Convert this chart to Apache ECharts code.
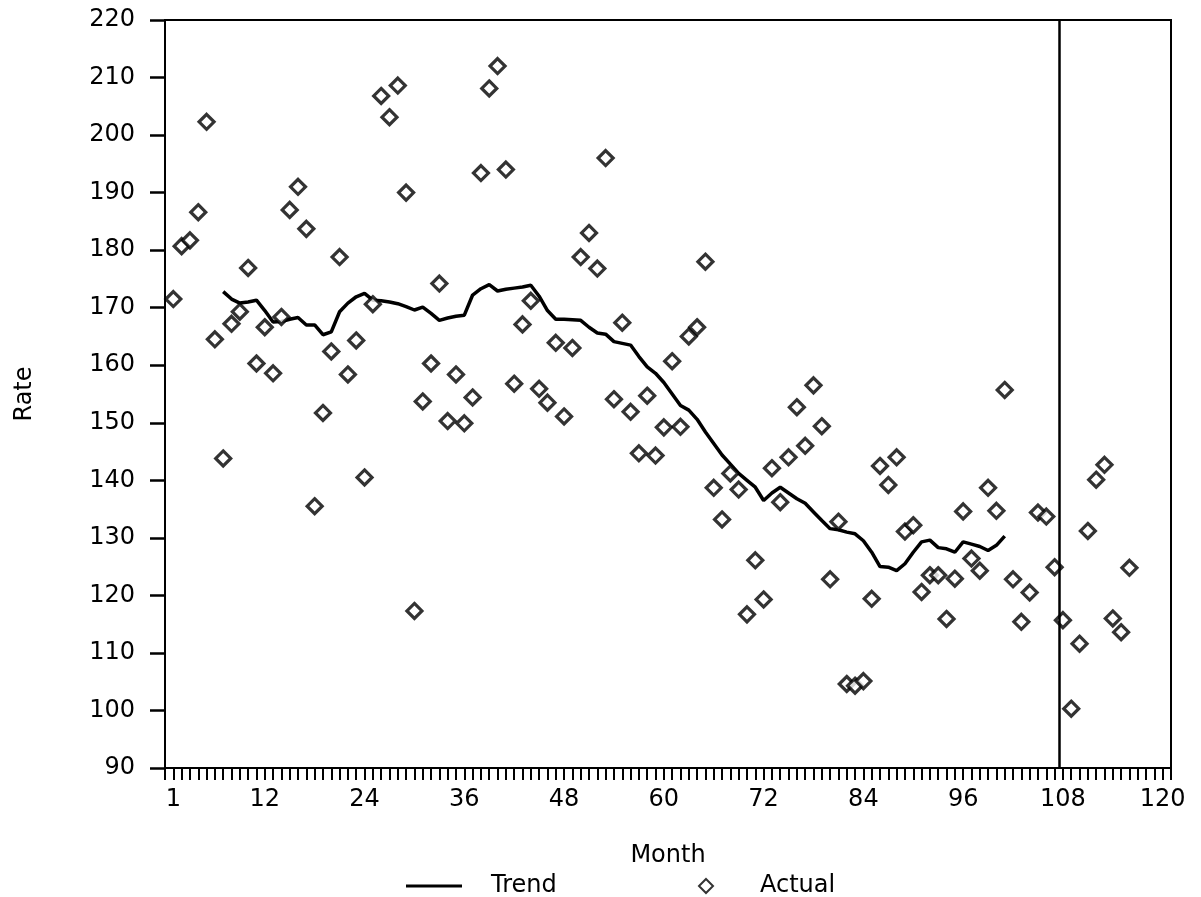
<!DOCTYPE html>
<html>
<head>
<meta charset="utf-8">
<title>Rate by Month</title>
<script src="https://cdn.jsdelivr.net/npm/echarts@6/dist/echarts.min.js"></script>
<style>
  html, body { margin: 0; padding: 0; background: #fff; }
  #chart { width: 1201px; height: 897px; }
</style>
</head>
<body>
<div id="chart"></div>
<script>
// actual rate, one value per month starting at month 1
var actualValues = [
  171.5, 180.7, 181.7, 186.6, 202.3, 164.5, 143.8, 167.2, 169.3, 176.9,
  160.3, 166.6, 158.6, 168.4, 187.0, 191.0, 183.7, 135.5, 151.7, 162.4,
  178.8, 158.4, 164.3, 140.5, 170.6, 206.8, 203.1, 208.6, 190.0, 117.3,
  153.7, 160.3, 174.2, 150.3, 158.4, 149.9, 154.4, 193.4, 208.1, 212.0,
  194.0, 156.8, 167.1, 171.2, 155.9, 153.5, 163.9, 151.1, 163.0, 178.8,
  183.0, 176.8, 196.0, 154.1, 167.4, 151.9, 144.7, 154.7, 144.3, 149.2,
  160.7, 149.3, 165.0, 166.6, 178.0, 138.7, 133.2, 141.2, 138.4, 116.7,
  126.1, 119.3, 142.1, 136.2, 144.0, 152.7, 146.0, 156.5, 149.4, 122.8,
  132.8, 104.6, 104.3, 105.1, 119.4, 142.5, 139.2, 144.0, 131.1, 132.2,
  120.6, 123.5, 123.5, 115.9, 122.9, 134.6, 126.4, 124.3, 138.7, 134.7,
  155.7, 122.8, 115.4, 120.5, 134.4, 133.7, 124.9, 115.7, 100.3, 111.6,
  131.2, 140.1, 142.7, 116.0, 113.6, 124.8
];

// trend (moving average), starts at month 7
var trendStart = 7;
var trendValues = [
  172.8, 171.5, 170.8, 171.0, 171.3, 169.5, 167.5, 167.6, 168.0, 168.3,
  167.0, 167.0, 165.3, 165.8, 169.3, 170.8, 171.9, 172.5, 171.3, 171.2,
  171.0, 170.7, 170.2, 169.6, 170.1, 169.0, 167.8, 168.2, 168.5, 168.7,
  172.2, 173.3, 174.0, 172.9, 173.2, 173.4, 173.6, 173.9, 172.0, 169.5,
  168.0, 168.0, 167.9, 167.8, 166.6, 165.6, 165.4, 164.1, 163.8, 163.5,
  161.5, 159.7, 158.6, 157.0, 155.0, 153.0, 152.2, 150.6, 148.4, 146.4,
  144.4, 142.8, 141.2, 140.0, 138.8, 136.5, 137.8, 138.8, 137.8, 136.8,
  136.0, 134.5, 133.0, 131.6, 131.4, 131.0, 130.7, 129.5, 127.5, 125.0,
  124.9, 124.3, 125.5, 127.5, 129.3, 129.6, 128.3, 128.1, 127.5, 129.3,
  128.9, 128.5, 127.8, 128.7, 130.3
];

var monthLabels = [1, 12, 24, 36, 48, 60, 72, 84, 96, 108, 120];
var forecastLine = 107.5;

var actualData = actualValues.map(function (v, i) { return [i + 1, v]; });
var trendData = trendValues.map(function (v, i) { return [trendStart + i, v]; });

var font = 'DejaVu Sans';
var fs = 24;
var myChart = echarts.init(document.getElementById('chart'));

var option = {
  animation: false,
  backgroundColor: '#fff',
  textStyle: { fontFamily: font, color: '#000' },
  grid: {
    left: 165, right: 30, top: 20, bottom: 129,
    show: true, borderColor: '#000', borderWidth: 2,
    containLabel: false, outerBoundsMode: 'none'
  },
  legend: [{
    data: [{ name: 'Trend', icon: 'rect' }],
    left: 401, top: 869,
    itemWidth: 56, itemHeight: 3,
    textStyle: { fontFamily: font, fontSize: fs, color: '#000', padding: [0, 0, 0, 24] }
  }, {
    data: ['Actual'],
    left: 693, top: 869,
    itemWidth: 14, itemHeight: 14,
    textStyle: { fontFamily: font, fontSize: fs, color: '#000', padding: [0, 0, 0, 42] }
  }],
  xAxis: {
    type: 'value',
    min: 0, max: 121, interval: 1,
    name: 'Month', nameLocation: 'middle', nameGap: 76,
    nameTextStyle: { fontFamily: font, fontSize: fs, color: '#000' },
    axisLine: { lineStyle: { color: '#000', width: 2 } },
    axisTick: { length: 12, lineStyle: { color: '#000', width: 2 } },
    splitLine: { show: false },
    axisLabel: {
      margin: 20, fontFamily: font, fontSize: fs, color: '#000',
      formatter: function (v) { return monthLabels.indexOf(v) >= 0 ? String(v) : ''; }
    }
  },
  yAxis: {
    type: 'value',
    min: 90, max: 220, interval: 10,
    name: 'Rate', nameLocation: 'middle', nameGap: 128, nameRotate: 90,
    nameTextStyle: { fontFamily: font, fontSize: fs, color: '#000' },
    axisLine: { show: true, lineStyle: { color: '#000', width: 2 } },
    axisTick: { show: true, length: 15, lineStyle: { color: '#000', width: 2.5 } },
    splitLine: { show: false },
    axisLabel: { margin: 30, fontFamily: font, fontSize: fs, color: '#000' }
  },
  series: [{
    name: 'Trend',
    type: 'line',
    data: trendData,
    symbol: 'none',
    lineStyle: { color: '#000', width: 3.5 },
    itemStyle: { color: '#000' },
    z: 3
  }, {
    name: 'Actual',
    type: 'scatter',
    data: actualData,
    symbol: 'diamond',
    symbolSize: 15,
    itemStyle: { color: '#fff', borderColor: '#000', borderWidth: 3.2 },
    z: 4,
    markLine: {
      silent: true,
      symbol: 'none',
      label: { show: false },
      lineStyle: { color: '#000', width: 2.5, type: 'solid' },
      data: [{ xAxis: forecastLine }]
    }
  }]
};

myChart.setOption(option);
</script>
</body>
</html>
